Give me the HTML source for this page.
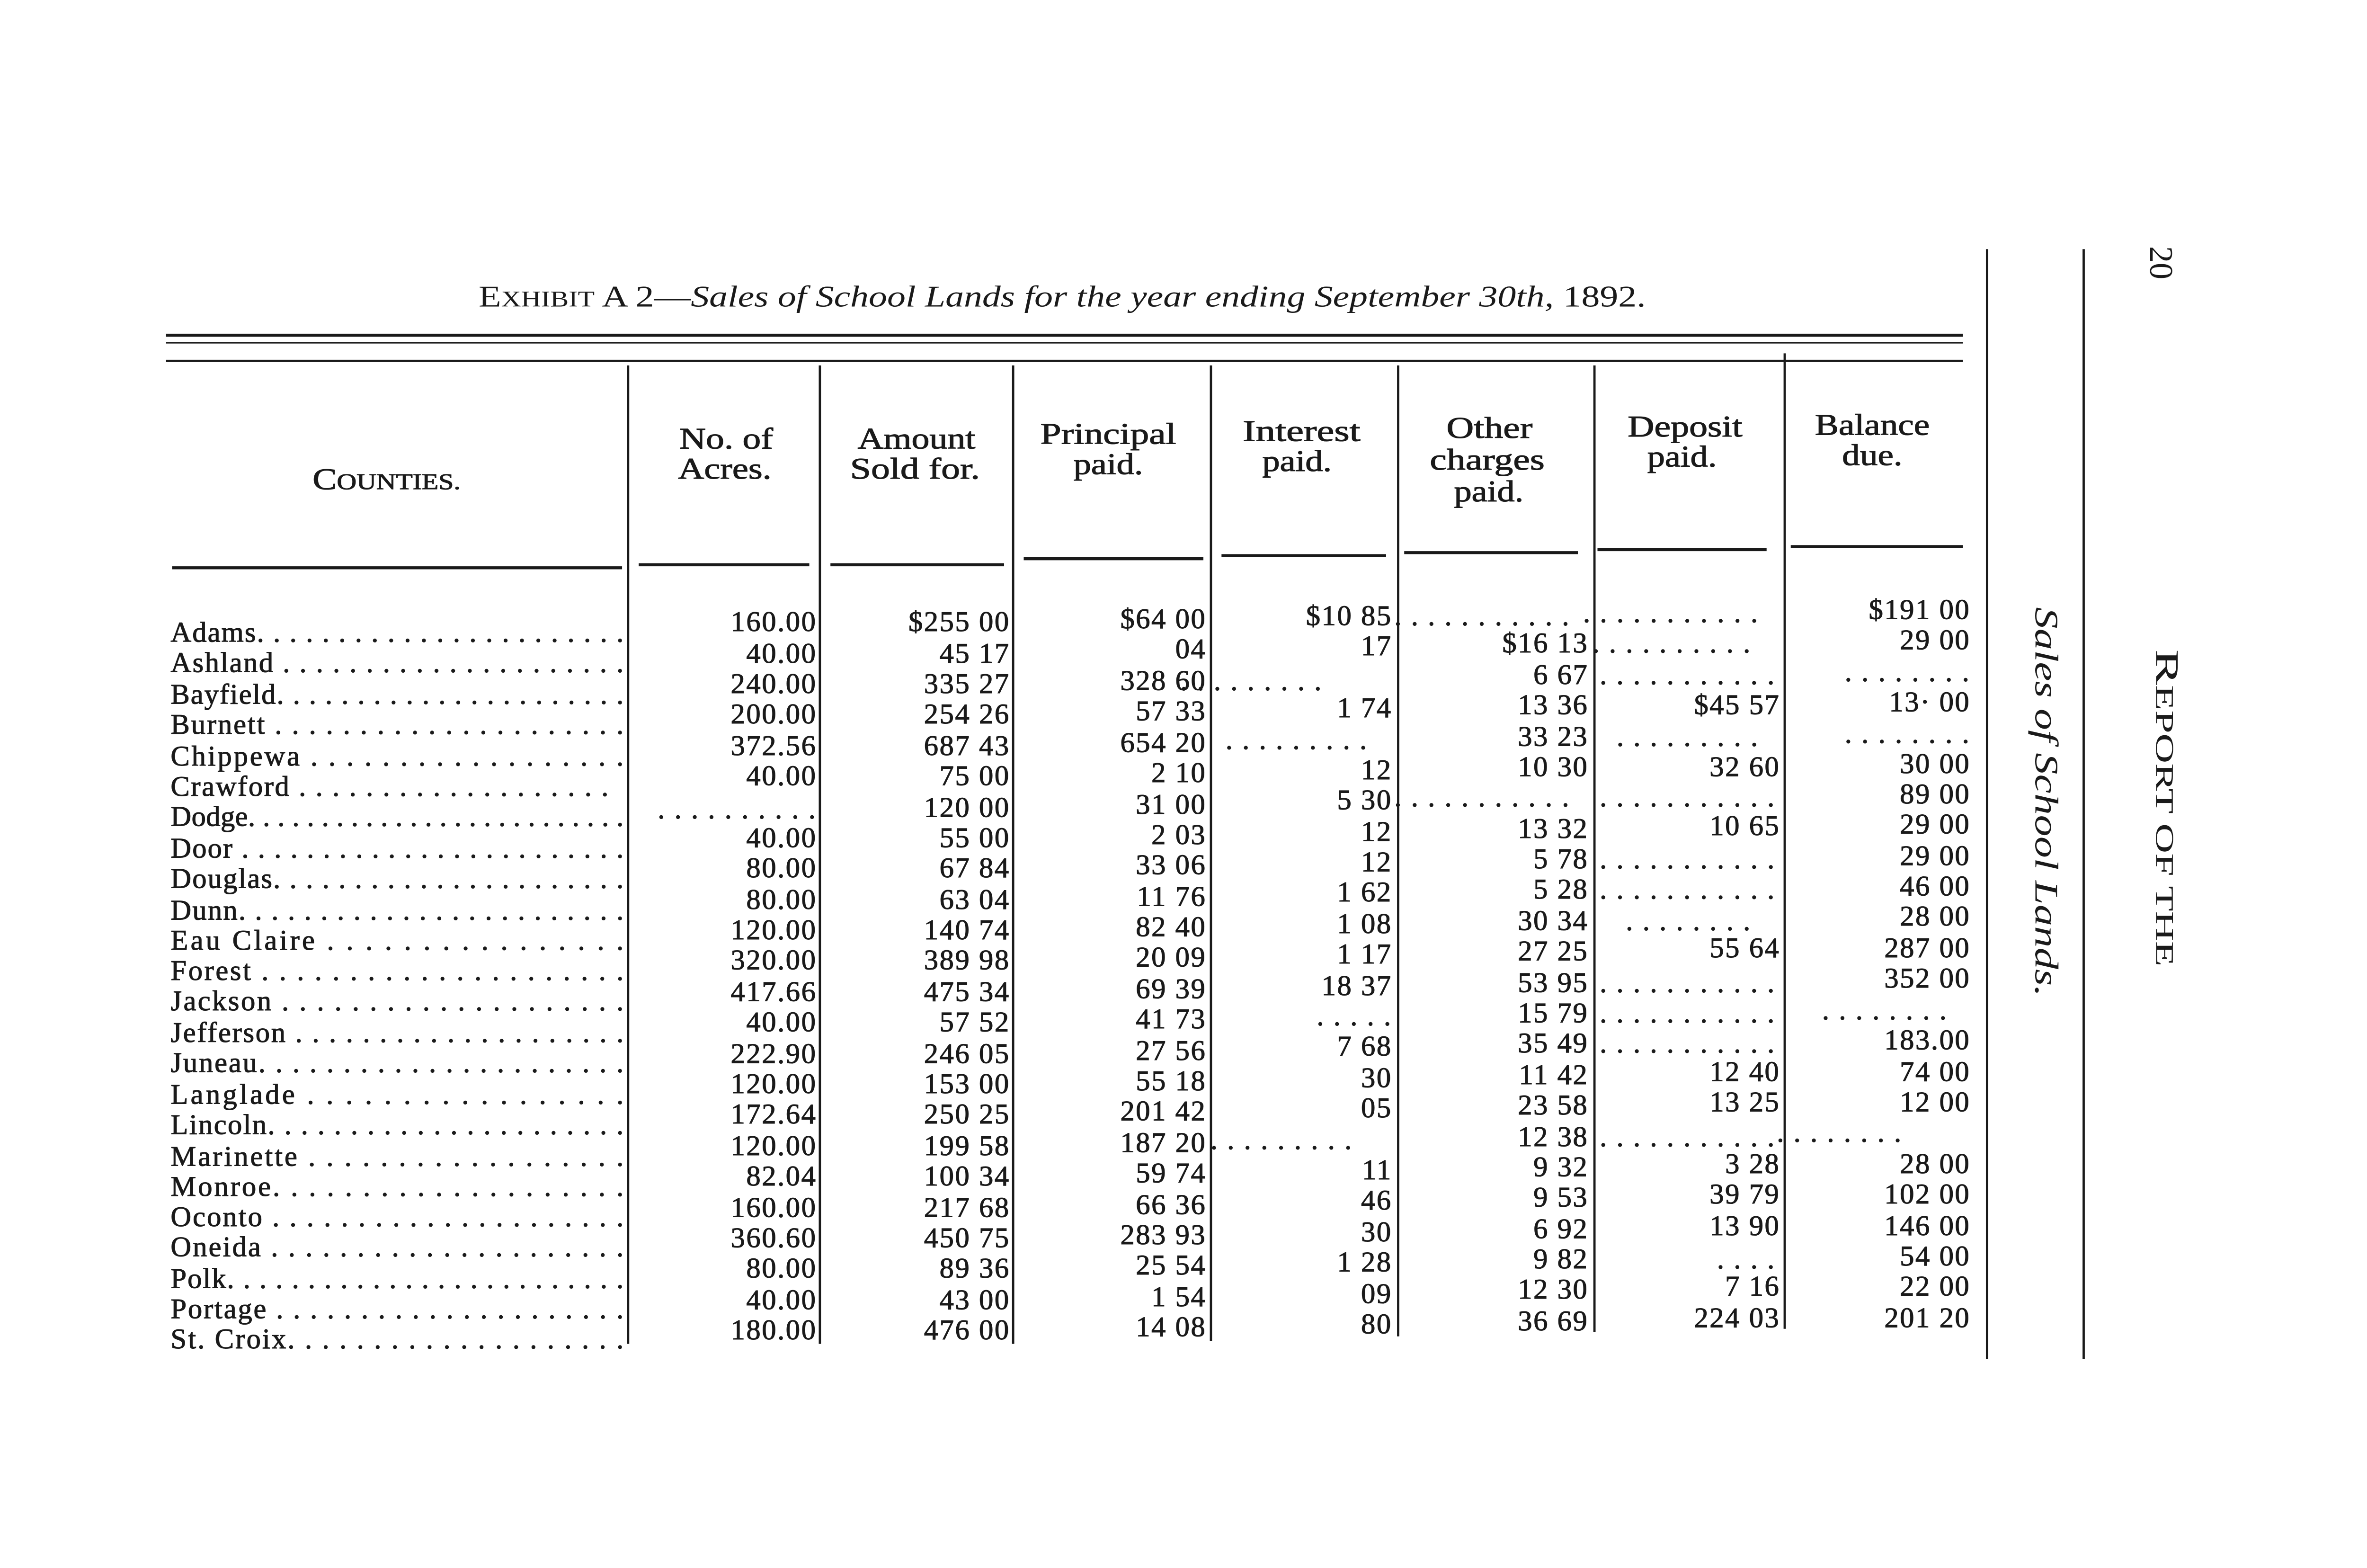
<!DOCTYPE html>
<html><head><meta charset="utf-8"><style>
html,body{margin:0;padding:0;background:#fff;}
svg{display:block;}
text{font-family:"Liberation Serif",serif;fill:#1a1a1a;}
.n{stroke:#1a1a1a;stroke-width:0.35;letter-spacing:0.8px;}
</style></head><body>
<svg width="5100" height="3312" viewBox="0 0 1599 1038.4" preserveAspectRatio="none" xmlns="http://www.w3.org/2000/svg">
<rect width="1599" height="1039" fill="#fff"/>
<text x="317" y="203" font-size="20" textLength="773" lengthAdjust="spacingAndGlyphs">E<tspan font-size="15">XHIBIT</tspan> A 2—<tspan font-style="italic">Sales of School Lands for the year ending September 30th,</tspan> 1892.</text>
<g stroke="#1a1a1a">
<line x1="110" y1="222" x2="1300" y2="222" stroke-width="2"/>
<line x1="110" y1="227" x2="1300" y2="227" stroke-width="1"/>
<line x1="110" y1="239" x2="1300" y2="239" stroke-width="1.5"/>
<line x1="416" y1="242" x2="416" y2="890" stroke-width="1.5"/>
<line x1="543" y1="242" x2="543" y2="890" stroke-width="1.5"/>
<line x1="671" y1="242" x2="671" y2="890" stroke-width="1.5"/>
<line x1="802" y1="242" x2="802" y2="888" stroke-width="1.5"/>
<line x1="926" y1="242" x2="926" y2="885" stroke-width="1.5"/>
<line x1="1056" y1="242" x2="1056" y2="882" stroke-width="1.5"/>
<line x1="1182" y1="234" x2="1182" y2="880" stroke-width="1.5"/>
<line x1="114" y1="376" x2="412" y2="376" stroke-width="2"/>
<line x1="423" y1="374" x2="536" y2="374" stroke-width="2"/>
<line x1="550" y1="374" x2="665" y2="374" stroke-width="2"/>
<line x1="678" y1="370" x2="797" y2="370" stroke-width="2"/>
<line x1="809" y1="368" x2="918" y2="368" stroke-width="2"/>
<line x1="930" y1="366" x2="1045" y2="366" stroke-width="2"/>
<line x1="1058" y1="364" x2="1170" y2="364" stroke-width="2"/>
<line x1="1186" y1="362" x2="1300" y2="362" stroke-width="2"/>
<line x1="1316" y1="165" x2="1316" y2="900" stroke-width="1.5"/>
<line x1="1380" y1="165" x2="1380" y2="900" stroke-width="1.5"/>
</g>
<g font-size="20" class="n" style="letter-spacing:0">
<text x="207" y="324" textLength="98" lengthAdjust="spacingAndGlyphs">C<tspan font-size="15">OUNTIES.</tspan></text>
<text x="450" y="297" textLength="62" lengthAdjust="spacingAndGlyphs">No. of</text><text x="449" y="317" textLength="62" lengthAdjust="spacingAndGlyphs">Acres.</text>
<text x="568" y="297" textLength="78" lengthAdjust="spacingAndGlyphs">Amount</text><text x="563" y="317" textLength="86" lengthAdjust="spacingAndGlyphs">Sold for.</text>
<text x="689" y="294" textLength="90" lengthAdjust="spacingAndGlyphs">Principal</text><text x="711" y="314" textLength="46" lengthAdjust="spacingAndGlyphs">paid.</text>
<text x="823" y="292" textLength="78" lengthAdjust="spacingAndGlyphs">Interest</text><text x="836" y="312" textLength="46" lengthAdjust="spacingAndGlyphs">paid.</text>
<text x="958" y="290" textLength="57" lengthAdjust="spacingAndGlyphs">Other</text><text x="947" y="311" textLength="76" lengthAdjust="spacingAndGlyphs">charges</text><text x="963" y="332" textLength="46" lengthAdjust="spacingAndGlyphs">paid.</text>
<text x="1078" y="289" textLength="76" lengthAdjust="spacingAndGlyphs">Deposit</text><text x="1091" y="309" textLength="46" lengthAdjust="spacingAndGlyphs">paid.</text>
<text x="1202" y="288" textLength="76" lengthAdjust="spacingAndGlyphs">Balance</text><text x="1220" y="308" textLength="40" lengthAdjust="spacingAndGlyphs">due.</text>
</g>
<g font-size="19" class="n" style="letter-spacing:0" lengthAdjust="spacing">
<text x="113" y="425" textLength="300">Adams. . . . . . . . . . . . . . .  . . . . . . . .</text>
<text x="113" y="445" textLength="300">Ashland  . . . . . . . . . . . . . . . . . . . . .</text>
<text x="113" y="466" textLength="300">Bayfield. . . . . . . . . . . . . . . . . . . . . .</text>
<text x="113" y="486" textLength="300">Burnett . . . . .  . . . . . . . . . . . . . . . .</text>
<text x="113" y="507" textLength="300">Chippewa . . . . . . . . . . . . . .  . . . .</text>
<text x="113" y="527" textLength="290">Crawford . . . . . . . . . . . . . . . .  . . .</text>
<text x="113" y="547" textLength="300">Dodge. . . . . . . . . . . . . . . . . . . . . . . . . .</text>
<text x="113" y="568" textLength="300">Door . . . . . . . . . . . . . . . . . . . . . . . .</text>
<text x="113" y="588" textLength="300">Douglas. . . . . . . . . . . . . . . . . . . . . .</text>
<text x="113" y="609" textLength="300">Dunn. . . . . . . . . . . . . . . . . . . . . . . .</text>
<text x="113" y="629" textLength="300">Eau Claire  . .  . . . . . . .  . . . . . . .</text>
<text x="113" y="649" textLength="300">Forest  . . . . . . . . . . . . . . .  . . . . . .</text>
<text x="113" y="669" textLength="300">Jackson . .  . . . . . . . . . . . . . . . . . .</text>
<text x="113" y="690" textLength="300">Jefferson . . . . . . . . . . . . . . . . . . . .</text>
<text x="113" y="710" textLength="300">Juneau. . . . . . . . . . . . . . . . . . . . . .</text>
<text x="113" y="731" textLength="300">Langlade . .  . . . . . . .  . . . . . . . .</text>
<text x="113" y="751" textLength="300">Lincoln. . . . . . . . . . . . . . . . . . . . . .</text>
<text x="113" y="772" textLength="300">Marinette . .  . . . . . . . . . . . . . . . .</text>
<text x="113" y="792" textLength="300">Monroe. . . . . . . . . .  . . .  . . . . . . .</text>
<text x="113" y="812" textLength="300">Oconto . . . .  . . . . . . . . . . . . . . . . .</text>
<text x="113" y="832" textLength="300">Oneida . . . . . . . . . . . . . . .  . . . . . .</text>
<text x="113" y="853" textLength="300">Polk. . . . . . . . . . . . . . . . . . . . . . . . .</text>
<text x="113" y="873" textLength="300">Portage . . . . . . . . . . . . . . . . . . . . .</text>
<text x="113" y="893" textLength="300">St. Croix. .  . . . . . . . . . . . . . . . . . .</text>
</g>
<g font-size="19" text-anchor="end" class="n">
<text x="541" y="418">160.00</text><text x="541" y="439">40.00</text><text x="541" y="459">240.00</text><text x="541" y="479">200.00</text><text x="541" y="500">372.56</text><text x="541" y="520">40.00</text><text x="541" y="542">. . . . . . . . . .</text><text x="541" y="561">40.00</text><text x="541" y="581">80.00</text><text x="541" y="602">80.00</text><text x="541" y="622">120.00</text><text x="541" y="642">320.00</text><text x="541" y="663">417.66</text><text x="541" y="683">40.00</text><text x="541" y="704">222.90</text><text x="541" y="724">120.00</text><text x="541" y="744">172.64</text><text x="541" y="765">120.00</text><text x="541" y="785">82.04</text><text x="541" y="806">160.00</text><text x="541" y="826">360.60</text><text x="541" y="846">80.00</text><text x="541" y="867">40.00</text><text x="541" y="887">180.00</text>
<text x="669" y="418">$255 00</text><text x="669" y="439">45 17</text><text x="669" y="459">335 27</text><text x="669" y="479">254 26</text><text x="669" y="500">687 43</text><text x="669" y="520">75 00</text><text x="669" y="541">120 00</text><text x="669" y="561">55 00</text><text x="669" y="581">67 84</text><text x="669" y="602">63 04</text><text x="669" y="622">140 74</text><text x="669" y="642">389 98</text><text x="669" y="663">475 34</text><text x="669" y="683">57 52</text><text x="669" y="704">246 05</text><text x="669" y="724">153 00</text><text x="669" y="744">250 25</text><text x="669" y="765">199 58</text><text x="669" y="785">100 34</text><text x="669" y="806">217 68</text><text x="669" y="826">450 75</text><text x="669" y="846">89 36</text><text x="669" y="867">43 00</text><text x="669" y="887">476 00</text>
<text x="799" y="416">$64 00</text><text x="799" y="436">04</text><text x="799" y="457">328 60</text><text x="799" y="477">57 33</text><text x="799" y="498">654 20</text><text x="799" y="518">2 10</text><text x="799" y="539">31 00</text><text x="799" y="559">2 03</text><text x="799" y="579">33 06</text><text x="799" y="600">11 76</text><text x="799" y="620">82 40</text><text x="799" y="640">20 09</text><text x="799" y="661">69 39</text><text x="799" y="681">41 73</text><text x="799" y="702">27 56</text><text x="799" y="722">55 18</text><text x="799" y="742">201 42</text><text x="799" y="763">187 20</text><text x="799" y="783">59 74</text><text x="799" y="804">66 36</text><text x="799" y="824">283 93</text><text x="799" y="844">25 54</text><text x="799" y="865">1 54</text><text x="799" y="885">14 08</text>
<text x="922" y="414">$10 85</text><text x="922" y="434">17</text><text x="876" y="457">. . . . . . . . .</text><text x="922" y="475">1 74</text><text x="906" y="496">. .  . . . . . . .</text><text x="922" y="516">12</text><text x="922" y="536">5 30</text><text x="922" y="557">12</text><text x="922" y="577">12</text><text x="922" y="597">1 62</text><text x="922" y="618">1 08</text><text x="922" y="638">1 17</text><text x="922" y="659">18 37</text><text x="922" y="679">. . . . .</text><text x="922" y="699">7 68</text><text x="922" y="720">30</text><text x="922" y="740">05</text><text x="896" y="761">. . . . . . . . .</text><text x="922" y="781">11</text><text x="922" y="801">46</text><text x="922" y="822">30</text><text x="922" y="842">1 28</text><text x="922" y="863">09</text><text x="922" y="883">80</text>
<text x="1040" y="414">. . . . . . . . . . .</text><text x="1052" y="432">$16 13</text><text x="1052" y="453">6 67</text><text x="1052" y="473">13 36</text><text x="1052" y="494">33 23</text><text x="1052" y="514">10 30</text><text x="1040" y="534">. . . . . . . . . . .</text><text x="1052" y="555">13 32</text><text x="1052" y="575">5 78</text><text x="1052" y="595">5 28</text><text x="1052" y="616">30 34</text><text x="1052" y="636">27 25</text><text x="1052" y="657">53 95</text><text x="1052" y="677">15 79</text><text x="1052" y="697">35 49</text><text x="1052" y="718">11 42</text><text x="1052" y="738">23 58</text><text x="1052" y="759">12 38</text><text x="1052" y="779">9 32</text><text x="1052" y="799">9 53</text><text x="1052" y="820">6 92</text><text x="1052" y="840">9 82</text><text x="1052" y="860">12 30</text><text x="1052" y="881">36 69</text>
<text x="1165" y="412">. . . . . . . . . . .</text><text x="1160" y="432">. . . .  . . . . . .</text><text x="1176" y="453">. . . . . . . . . . .</text><text x="1179" y="473">$45 57</text><text x="1165" y="494">. .  . . . . . . .</text><text x="1179" y="514">32 60</text><text x="1176" y="534">. . . . . . . . . . .</text><text x="1179" y="553">10 65</text><text x="1176" y="575">. . . . . . . . . . .</text><text x="1176" y="595">. . . . . . . . . . .</text><text x="1160" y="616">. . . . . . . .</text><text x="1179" y="634">55 64</text><text x="1176" y="657">. . . . . . . . . . .</text><text x="1176" y="677">. . . . . . . . . . .</text><text x="1176" y="697">. . . . . . . . . . .</text><text x="1179" y="716">12 40</text><text x="1179" y="736">13 25</text><text x="1176" y="759">. . . . . . . . . . .</text><text x="1179" y="777">3 28</text><text x="1179" y="797">39 79</text><text x="1179" y="818">13 90</text><text x="1176" y="840">. . . .</text><text x="1179" y="858">7 16</text><text x="1179" y="879">224 03</text>
<text x="1305" y="410">$191 00</text><text x="1305" y="430">29 00</text><text x="1305" y="451">. . . . . . . .</text><text x="1305" y="471">13· 00</text><text x="1305" y="492">. . . . . . . .</text><text x="1305" y="512">30 00</text><text x="1305" y="532">89 00</text><text x="1305" y="552">29 00</text><text x="1305" y="573">29 00</text><text x="1305" y="593">46 00</text><text x="1305" y="613">28 00</text><text x="1305" y="634">287 00</text><text x="1305" y="654">352 00</text><text x="1290" y="675">. . . . . . . .</text><text x="1305" y="695">183.00</text><text x="1305" y="716">74 00</text><text x="1305" y="736">12 00</text><text x="1260" y="756">. . . . . . . .</text><text x="1305" y="777">28 00</text><text x="1305" y="797">102 00</text><text x="1305" y="818">146 00</text><text x="1305" y="838">54 00</text><text x="1305" y="858">22 00</text><text x="1305" y="879">201 20</text>
</g>
<text transform="translate(1348,402) rotate(90)" font-size="22" font-style="italic" textLength="258" lengthAdjust="spacingAndGlyphs">Sales of School Lands.</text>
<text transform="translate(1428,430) rotate(90)" font-size="22" textLength="210" lengthAdjust="spacingAndGlyphs">R<tspan font-size="17">EPORT OF THE</tspan></text>
<text transform="translate(1424,163) rotate(90)" font-size="22">20</text>
</svg>
</body></html>
